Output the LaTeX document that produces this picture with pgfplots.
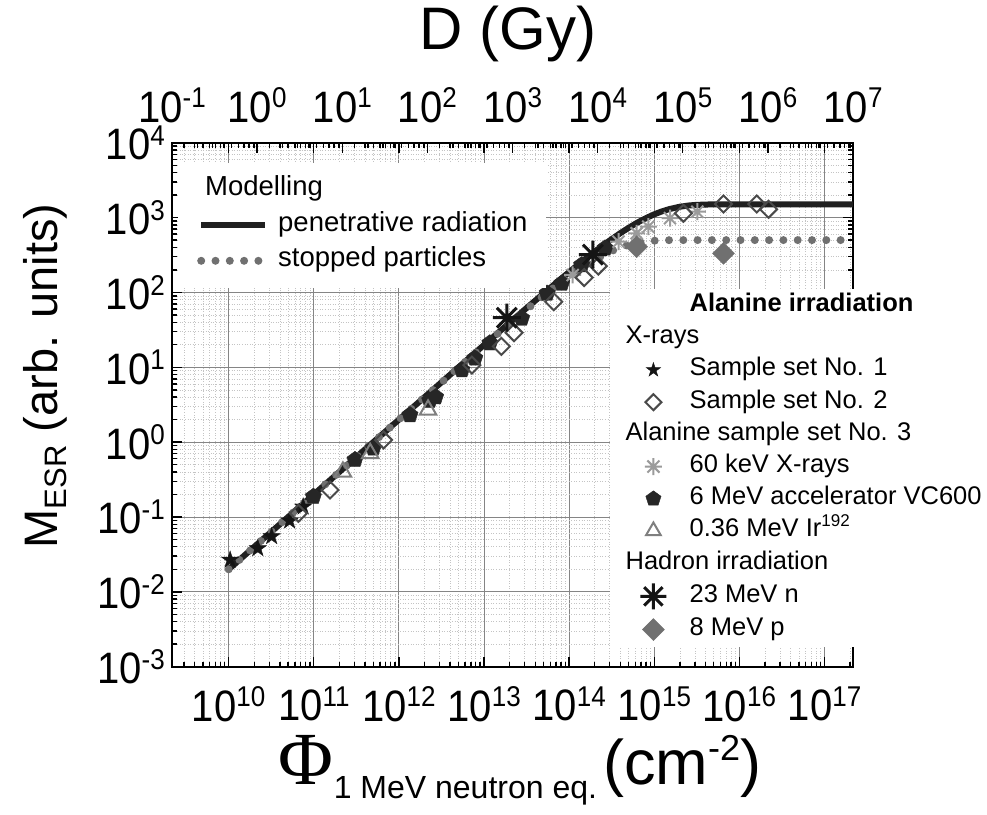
\documentclass[border=0pt]{standalone}
\usepackage{graphicx}
\usepackage{pgfplots}
\pgfplotsset{compat=1.18}
\usepackage{fontspec}
\setmainfont{Liberation Sans}
\newfontfamily\phifont{Liberation Serif}
\definecolor{lineblack}{HTML}{202020}
\definecolor{dotgray}{HTML}{707070}
\definecolor{majgrid}{HTML}{858585}
\definecolor{mingrid}{HTML}{C4C4C4}
\definecolor{cA}{HTML}{151515}
\definecolor{cB}{HTML}{4A4A4A}
\definecolor{cC}{HTML}{9B9B9B}
\definecolor{cD}{HTML}{262626}
\definecolor{cE}{HTML}{7F7F7F}
\definecolor{cF}{HTML}{151515}
\definecolor{cG}{HTML}{707070}

\pgfdeclareplotmark{pstar}{%
  \pgfpathmoveto{\pgfpointpolar{90}{\pgfplotmarksize}}%
  \pgfpathlineto{\pgfpointpolar{126}{0.382\pgfplotmarksize}}%
  \pgfpathlineto{\pgfpointpolar{162}{\pgfplotmarksize}}%
  \pgfpathlineto{\pgfpointpolar{198}{0.382\pgfplotmarksize}}%
  \pgfpathlineto{\pgfpointpolar{234}{\pgfplotmarksize}}%
  \pgfpathlineto{\pgfpointpolar{270}{0.382\pgfplotmarksize}}%
  \pgfpathlineto{\pgfpointpolar{306}{\pgfplotmarksize}}%
  \pgfpathlineto{\pgfpointpolar{342}{0.382\pgfplotmarksize}}%
  \pgfpathlineto{\pgfpointpolar{18}{\pgfplotmarksize}}%
  \pgfpathlineto{\pgfpointpolar{54}{0.382\pgfplotmarksize}}%
  \pgfpathclose\pgfusepathqfillstroke}
\pgfdeclareplotmark{ast8}{%
  \pgfpathmoveto{\pgfqpoint{-\pgfplotmarksize}{0pt}}\pgfpathlineto{\pgfqpoint{\pgfplotmarksize}{0pt}}%
  \pgfpathmoveto{\pgfqpoint{0pt}{-\pgfplotmarksize}}\pgfpathlineto{\pgfqpoint{0pt}{\pgfplotmarksize}}%
  \pgfpathmoveto{\pgfpointpolar{45}{\pgfplotmarksize}}\pgfpathlineto{\pgfpointpolar{225}{\pgfplotmarksize}}%
  \pgfpathmoveto{\pgfpointpolar{135}{\pgfplotmarksize}}\pgfpathlineto{\pgfpointpolar{315}{\pgfplotmarksize}}%
  \pgfusepathqstroke}
\pgfdeclareplotmark{dia}{%
  \pgfpathmoveto{\pgfqpoint{0pt}{\pgfplotmarksize}}\pgfpathlineto{\pgfqpoint{\pgfplotmarksize}{0pt}}%
  \pgfpathlineto{\pgfqpoint{0pt}{-\pgfplotmarksize}}\pgfpathlineto{\pgfqpoint{-\pgfplotmarksize}{0pt}}%
  \pgfpathclose\pgfusepathqstroke}
\pgfdeclareplotmark{dia*}{%
  \pgfpathmoveto{\pgfqpoint{0pt}{\pgfplotmarksize}}\pgfpathlineto{\pgfqpoint{\pgfplotmarksize}{0pt}}%
  \pgfpathlineto{\pgfqpoint{0pt}{-\pgfplotmarksize}}\pgfpathlineto{\pgfqpoint{-\pgfplotmarksize}{0pt}}%
  \pgfpathclose\pgfusepathqfillstroke}

\newcommand{\tickfont}{\fontsize{40bp}{44bp}\selectfont}
\newcommand{\tl}[1]{\scalebox{1}[1.1]{10\raisebox{13bp}{\fontsize{26bp}{26bp}\selectfont #1}}}

\begin{document}
\begin{tikzpicture}
\path[use as bounding box] (-172bp,-148.3bp) rectangle (815bp,666.7bp);
\begin{axis}[
  at={(0bp,0bp)}, anchor=south west,
  scale only axis, width=681bp, height=524bp,
  xmode=log, ymode=log,
  xmin=2.16e9, xmax=2.16e17, ymin=1e-3, ymax=1e4,
  xtick={1e10,1e11,1e12,1e13,1e14,1e15,1e16,1e17},
  xticklabels={\tl{10},\tl{11},\tl{12},\tl{13},\tl{14},\tl{15},\tl{16},\tl{17}},
  minor xtick={3e9,4e9,5e9,6e9,7e9,8e9,9e9,
    2e10,3e10,4e10,5e10,6e10,7e10,8e10,9e10,
    2e11,3e11,4e11,5e11,6e11,7e11,8e11,9e11,
    2e12,3e12,4e12,5e12,6e12,7e12,8e12,9e12,
    2e13,3e13,4e13,5e13,6e13,7e13,8e13,9e13,
    2e14,3e14,4e14,5e14,6e14,7e14,8e14,9e14,
    2e15,3e15,4e15,5e15,6e15,7e15,8e15,9e15,
    2e16,3e16,4e16,5e16,6e16,7e16,8e16,9e16,2e17},
  ytick={1e-3,1e-2,1e-1,1,1e1,1e2,1e3,1e4},
  yticklabels={\tl{-3},\tl{-2},\tl{-1},\tl{0},\tl{1},\tl{2},\tl{3},\tl{4}},
  minor ytick={2e-3,3e-3,4e-3,5e-3,6e-3,7e-3,8e-3,9e-3,
    2e-2,3e-2,4e-2,5e-2,6e-2,7e-2,8e-2,9e-2,
    0.2,0.3,0.4,0.5,0.6,0.7,0.8,0.9,
    2,3,4,5,6,7,8,9,20,30,40,50,60,70,80,90,
    200,300,400,500,600,700,800,900,
    2000,3000,4000,5000,6000,7000,8000,9000},
  tick align=inside, major tick length=10bp, minor tick length=5bp,
  tick style={black, line width=1.4bp},
  axis line style={black, line width=2bp},
  grid=both,
  major grid style={majgrid, line width=0.9bp},
  minor grid style={mingrid, line width=0.6bp, dotted},
  xticklabel style={font=\tickfont, inner sep=0pt, yshift=-20bp},
  yticklabel style={font=\tickfont, inner sep=0pt, xshift=-7bp},
  xlabel={{\fontsize{75bp}{75bp}\phifont Φ}\raisebox{-14bp}{\fontsize{32bp}{32bp}\selectfont 1 MeV neutron eq.}\hspace{6bp}{\fontsize{63bp}{63bp}\selectfont(cm\raisebox{24bp}{\fontsize{36bp}{36bp}\selectfont -2})}},
  xlabel style={at={(axis description cs:0.511,-0.197)}, anchor=center, inner sep=0pt},
  ylabel={M\raisebox{-9bp}{\fontsize{31bp}{31bp}\selectfont ESR} (arb. units)},
  ylabel style={font=\fontsize{47bp}{50bp}\selectfont, at={(axis description cs:-0.1865,0.555)}, anchor=center, inner sep=0pt},
  legend style={at={(axis description cs:0.0088,0.962)}, anchor=north west, draw=none, fill=white,
    inner xsep=19bp, inner ysep=14bp, font=\fontsize{27.5bp}{32bp}\selectfont,
    nodes={inner sep=0pt, text height=19bp, text depth=7bp}, row sep=9.5bp,
    /tikz/every odd column/.append style={column sep=9bp}},
  legend cell align=left,
  legend image code/.code={\draw[#1] (0bp,0bp) -- (64bp,0bp);},
]
\addlegendimage{empty legend}\addlegendentry{\hspace*{-73bp}Modelling}
% model: penetrative radiation
\addplot[lineblack, line width=6bp, mark=none] coordinates {
 (1e10,0.02) (1e11,0.2) (1e12,1.999) (1e13,19.87) (3e13,58.8) (5e13,96.7)
 (1e14,187.2) (1.5e14,271.9) (2e14,351.2) (3e14,494.5) (4e14,620.1) (5e14,729.9)
 (6e14,826.0) (7e14,910.2) (8e14,983.7) (1e15,1104.6) (1.2e15,1197.1) (1.5e15,1297.0)
 (2e15,1395.8) (2.5e15,1446.5) (3e15,1472.5) (4e15,1492.8) (5e15,1498.1) (7e15,1499.9)
 (1e16,1500) (2.2e17,1500)};
\addlegendentry{penetrative radiation}
% model: stopped particles
\addplot[dotgray, line width=8bp, line cap=round, dash pattern=on 0bp off 14.3bp, mark=none] coordinates {
 (1e10,0.02) (1e11,0.2) (1e12,1.996) (1e13,19.6) (3e13,56.5) (5e13,90.6)
 (1e14,164.8) (1.5e14,225.6) (2e14,275.3) (3e14,349.4) (4e14,399.0) (5e14,432.3)
 (6e14,454.6) (7e14,469.6) (8e14,479.6) (1e15,490.8) (1.2e15,495.9) (1.5e15,498.8)
 (2e15,499.8) (1.8e17,500)};
\addlegendentry{stopped particles}
% 6 MeV accelerator VC600
\addplot[forget plot, only marks, mark=pentagon*, mark size=8.5bp, mark options={draw=cD, fill=cD}] coordinates {
 (9.9e10,0.187) (3.05e11,0.58) (5e11,0.83) (1.35e12,2.3) (2.3e12,3.6) (2.7e12,4.0)
 (5.5e12,9.2) (7.8e12,13.2) (1.17e13,21) (2.77e13,45) (5.5e13,97) (8.2e13,132)
 (1.4e14,232) (2.64e14,389)};
% Sample set No. 1
\addplot[forget plot, only marks, mark=pstar, mark size=9bp, mark options={draw=cA, fill=cA}] coordinates {
 (1.04e10,0.0267) (2.2e10,0.038) (3.2e10,0.055) (5.2e10,0.089) (7.5e10,0.137)};
% 60 keV X-rays
\addplot[forget plot, only marks, mark=ast8, mark size=8.5bp, mark options={draw=cC, line width=2bp}] coordinates {
 (1.1e14,171) (3.8e14,476) (6.2e14,617) (8.5e14,755) (1.53e15,980) (3.2e15,1196)};
% 0.36 MeV Ir192
\addplot[forget plot, only marks, mark=triangle, mark size=9.5bp, mark options={draw=cE, line width=2bp}] coordinates {
 (2.2e11,0.40) (4.6e11,0.71) (2.2e12,2.7)};
% Sample set No. 2
\addplot[forget plot, only marks, mark=dia, mark size=8.5bp, mark options={draw=cB, line width=2bp}] coordinates {
 (6.6e10,0.112) (1.55e11,0.229) (6.6e11,1.07) (7.2e12,10.7) (1.6e13,19) (2.25e13,29)
 (6.6e13,75) (1.5e14,158) (2.2e14,225) (2.2e15,1140) (6.5e15,1517) (1.6e16,1517) (2.2e16,1290)};
% 23 MeV n
\addplot[forget plot, only marks, mark=ast8, mark size=14bp, mark options={draw=cF, line width=3bp}] coordinates {
 (1.85e13,46) (1.9e14,320)};
% 8 MeV p
\addplot[forget plot, only marks, mark=dia*, mark size=11bp, mark options={draw=cG, fill=cG}] coordinates {
 (6.2e14,408) (6.5e15,333)};
\end{axis}

\begin{axis}[
  at={(0bp,0bp)}, anchor=south west,
  scale only axis, width=681bp, height=524bp,
  xmode=log, ymode=log,
  xmin=0.1, xmax=1e7, ymin=1e-3, ymax=1e4,
  axis x line*=top, hide y axis,
  xtick={0.1,1,10,100,1000,1e4,1e5,1e6,1e7},
  xticklabels={\tl{-1},\tl{0},\tl{1},\tl{2},\tl{3},\tl{4},\tl{5},\tl{6},\tl{7}},
  minor xtick={0.2,0.3,0.4,0.5,0.6,0.7,0.8,0.9,
    2,3,4,5,6,7,8,9,20,30,40,50,60,70,80,90,
    200,300,400,500,600,700,800,900,
    2e3,3e3,4e3,5e3,6e3,7e3,8e3,9e3,
    2e4,3e4,4e4,5e4,6e4,7e4,8e4,9e4,
    2e5,3e5,4e5,5e5,6e5,7e5,8e5,9e5,
    2e6,3e6,4e6,5e6,6e6,7e6,8e6,9e6},
  tick align=inside, major tick length=10bp, minor tick length=5bp,
  tick style={black, line width=1.4bp},
  axis line style={black, line width=2bp},
  xticklabel style={font=\tickfont, inner sep=0pt, yshift=20bp},
  xlabel={D (Gy)},
  xlabel style={font=\fontsize{60bp}{62bp}\selectfont, at={(axis description cs:0.493,1.207)}, anchor=center, inner sep=0pt},
  legend style={at={(axis description cs:0.6432,0.722)}, anchor=north west, draw=none, fill=white,
    inner xsep=25bp, inner ysep=5bp, font=\fontsize{25.5bp}{30bp}\selectfont,
    nodes={inner sep=0pt, text height=18bp, text depth=6bp}, row sep=8.2bp,
    /tikz/every odd column/.append style={column sep=18bp}},
  legend cell align=left,
  legend image code/.code={\path (0bp,0bp) (36bp,0bp); \draw[#1] plot coordinates {(18bp,0bp)};},
]
\addlegendimage{empty legend}\addlegendentry{\textbf{Alanine irradiation}}
\addlegendimage{empty legend}\addlegendentry{\hspace*{-64bp}X-rays}
\addlegendimage{mark=pstar, mark size=7.5bp, mark options={draw=cA, fill=cA}}\addlegendentry{Sample set No. 1}
\addlegendimage{mark=dia, mark size=8bp, mark options={draw=cB, line width=2bp}}\addlegendentry{Sample set No. 2}
\addlegendimage{empty legend}\addlegendentry{\hspace*{-64bp}Alanine sample set No. 3}
\addlegendimage{mark=ast8, mark size=8.5bp, mark options={draw=cC, line width=2bp}}\addlegendentry{60 keV X-rays}
\addlegendimage{mark=pentagon*, mark size=8bp, mark options={draw=cD, fill=cD}}\addlegendentry{6 MeV accelerator VC600}
\addlegendimage{mark=triangle, mark size=8.5bp, mark options={draw=cE, line width=2bp}}\addlegendentry{0.36 MeV Ir\raisebox{10bp}{\fontsize{17bp}{17bp}\selectfont 192}}
\addlegendimage{empty legend}\addlegendentry{\hspace*{-64bp}Hadron irradiation}
\addlegendimage{mark=ast8, mark size=13bp, mark options={draw=cF, line width=3bp}}\addlegendentry{23 MeV n}
\addlegendimage{mark=dia*, mark size=11bp, mark options={draw=cG, fill=cG}}\addlegendentry{8 MeV p}
\end{axis}
\end{tikzpicture}
\end{document}
